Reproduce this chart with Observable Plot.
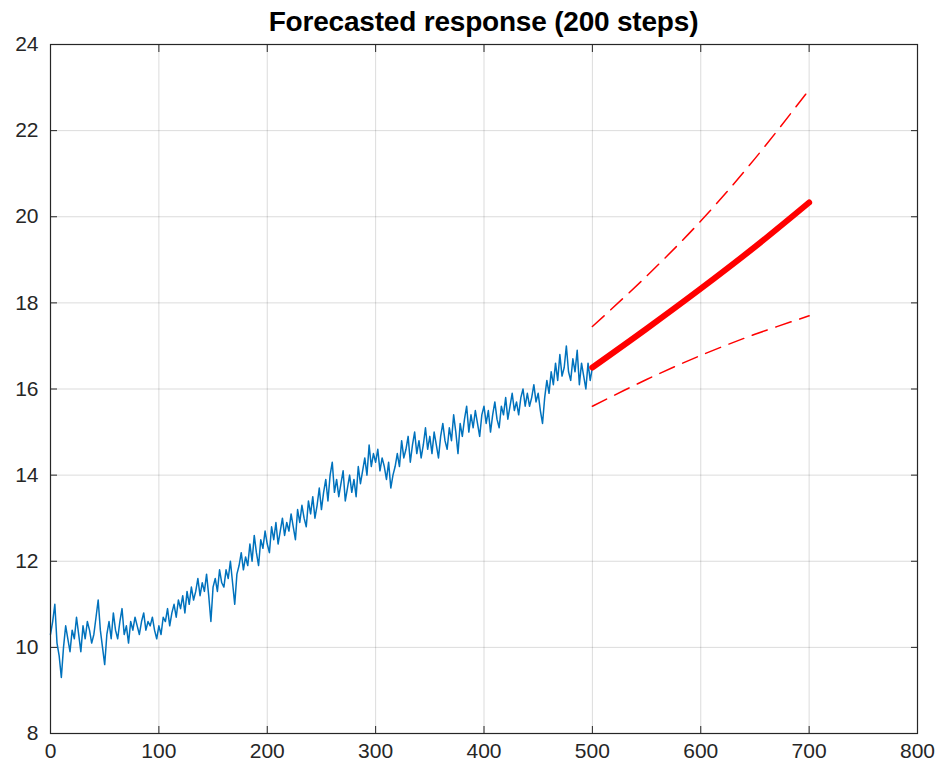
<!DOCTYPE html>
<html>
<head>
<meta charset="utf-8">
<script src="https://cdn.jsdelivr.net/npm/d3@7"></script>
<script src="https://cdn.jsdelivr.net/npm/@observablehq/plot@0.6"></script>
<style>
  html, body { margin: 0; padding: 0; background: #fff; }
  #wrap { position: relative; width: 942px; height: 774px; font-family: "Liberation Sans", Arial, sans-serif; }
  #title { position: absolute; left: 50px; width: 867px; top: 3px; text-align: center;
           font-weight: bold; font-size: 28px; line-height: 38px; color: #000; margin: 0; letter-spacing: -0.2px; }
  #chart svg { display: block; }
</style>
</head>
<body>
<div id="wrap">
  <div id="chart"></div>
  <h2 id="title">Forecasted response (200 steps)</h2>
</div>
<script>
// Observed response, one value every 2 steps (steps 0..500)
const obsStep = 2;
const observed = [
  10.3, 10.6, 11.0, 10.1, 9.8, 9.3, 10.0, 10.5, 10.2, 9.9,
  10.4, 10.2, 10.7, 10.3, 9.9, 10.5, 10.2, 10.6, 10.4, 10.1,
  10.3, 10.7, 11.1, 10.4, 10.0, 9.6, 10.3, 10.6, 10.2, 10.8,
  10.4, 10.2, 10.6, 10.9, 10.3, 10.5, 10.1, 10.6, 10.4, 10.7,
  10.5, 10.3, 10.6, 10.8, 10.4, 10.6, 10.5, 10.7, 10.4, 10.2,
  10.5, 10.3, 10.7, 10.6, 10.9, 10.5, 10.8, 11.0, 10.7, 11.1,
  10.9, 11.2, 10.8, 11.3, 11.0, 11.4, 11.1, 11.3, 11.6, 11.2,
  11.5, 11.3, 11.7, 11.2, 10.6, 11.4, 11.6, 11.3, 11.8, 11.5,
  11.4, 11.8, 11.6, 12.0, 11.5, 11.0, 11.7, 11.9, 12.2, 11.8,
  12.1, 11.9, 12.4, 12.0, 12.6, 12.2, 11.9, 12.5, 12.3, 12.7,
  12.4, 12.2, 12.8, 12.5, 12.9, 12.4, 12.7, 13.0, 12.6, 12.9,
  12.7, 13.1, 12.8, 12.5, 13.2, 12.9, 13.3, 13.0, 12.8, 13.4,
  13.1, 13.5, 13.0, 13.3, 13.7, 13.2, 13.6, 13.9, 13.4, 14.0,
  14.3, 13.6, 13.9, 13.5, 13.8, 14.1, 13.4, 13.7, 14.0, 13.6,
  13.9, 13.5, 14.2, 13.8, 14.1, 14.4, 14.0, 14.7, 14.2, 14.5,
  14.3, 14.6, 14.1, 14.4, 14.2, 13.9, 14.3, 13.7, 14.0, 14.2,
  14.5, 14.2, 14.8, 14.4, 14.6, 14.9, 14.3, 14.7, 15.0, 14.5,
  14.8, 14.4, 14.7, 15.1, 14.6, 14.9, 14.5, 15.0, 14.7, 14.4,
  14.9, 15.2, 14.8, 14.6, 15.1, 14.8, 15.4, 15.0, 14.5, 15.2,
  14.9, 15.3, 15.6, 15.0, 15.4, 15.1, 15.5, 15.2, 14.9, 15.4,
  15.6, 15.2, 15.5, 15.0, 15.4, 15.7, 15.3, 15.1, 15.6, 15.4,
  15.8, 15.3, 15.6, 15.9, 15.5, 15.7, 15.4, 15.8, 16.0, 15.6,
  15.9, 15.6, 15.8, 16.1, 15.7, 15.9, 15.5, 15.2, 15.8, 16.2,
  15.9, 16.4, 16.1, 16.6, 16.2, 16.8, 16.3, 16.5, 17.0, 16.4,
  16.2, 16.7, 16.4, 16.9, 16.1, 16.6, 16.3, 16.0, 16.6, 16.2,
  16.5
];

// Forecast (steps 500..700)
const fcSteps = [500, 550, 600, 650, 700];
const fcMean  = [16.5, 17.4, 18.33, 19.3, 20.33];
const fcUpper = [17.45, 18.62, 19.9, 21.35, 22.95];
const fcLower = [15.6, 16.22, 16.78, 17.27, 17.7];

// Axis ticks
const xTicks = [0, 100, 200, 300, 400, 500, 600, 700, 800];
const yTicks = [8, 10, 12, 14, 16, 18, 20, 22, 24];

const obsData = observed.map((v, i) => ({step: i * obsStep, value: v}));
const fcData = fcSteps.map((s, i) => ({step: s, mean: fcMean[i], upper: fcUpper[i], lower: fcLower[i]}));

const axisColor = "#262626";
const fs = 21;

const chart = Plot.plot({
  width: 942,
  height: 774,
  marginLeft: 50,
  marginRight: 25,
  marginTop: 44,
  marginBottom: 41,
  style: {fontFamily: '"Liberation Sans", Arial, sans-serif', background: "#fff"},
  x: {domain: [0, 800]},
  y: {domain: [8, 24]},
  marks: [
    Plot.gridX(xTicks, {stroke: "#000", strokeOpacity: 0.14, strokeWidth: 1}),
    Plot.gridY(yTicks, {stroke: "#000", strokeOpacity: 0.14, strokeWidth: 1}),
    Plot.line(obsData, {x: "step", y: "value", stroke: "#0072BD", strokeWidth: 1.5}),
    Plot.line(fcData, {x: "step", y: "upper", stroke: "#ff0000", strokeWidth: 1.5, strokeDasharray: "16,9", curve: "catmull-rom"}),
    Plot.line(fcData, {x: "step", y: "lower", stroke: "#ff0000", strokeWidth: 1.5, strokeDasharray: "16,9", curve: "catmull-rom"}),
    Plot.line(fcData, {x: "step", y: "mean", stroke: "#ff0000", strokeWidth: 6, strokeLinecap: "round", curve: "catmull-rom"}),
    Plot.frame({stroke: axisColor, strokeWidth: 1.2}),
    // inward ticks on all four sides
    Plot.axisX({anchor: "bottom", ticks: xTicks, tickSize: -7, tickFormat: () => "", label: null, stroke: axisColor}),
    Plot.axisX({anchor: "top", ticks: xTicks, tickSize: -7, tickFormat: () => "", label: null, stroke: axisColor}),
    Plot.axisY({anchor: "left", ticks: yTicks, tickSize: -7, tickFormat: () => "", label: null, stroke: axisColor}),
    Plot.axisY({anchor: "right", ticks: yTicks, tickSize: -7, tickFormat: () => "", label: null, stroke: axisColor}),
    // tick labels
    Plot.axisX({anchor: "bottom", ticks: xTicks, tickSize: 0, tickPadding: 10, tickFormat: d => String(d), label: null, fontSize: fs, fill: axisColor}),
    Plot.axisY({anchor: "left", ticks: yTicks, tickSize: 0, tickPadding: 12, tickFormat: d => String(d), label: null, fontSize: fs, fill: axisColor})
  ]
});
document.getElementById("chart").appendChild(chart);
</script>
</body>
</html>
